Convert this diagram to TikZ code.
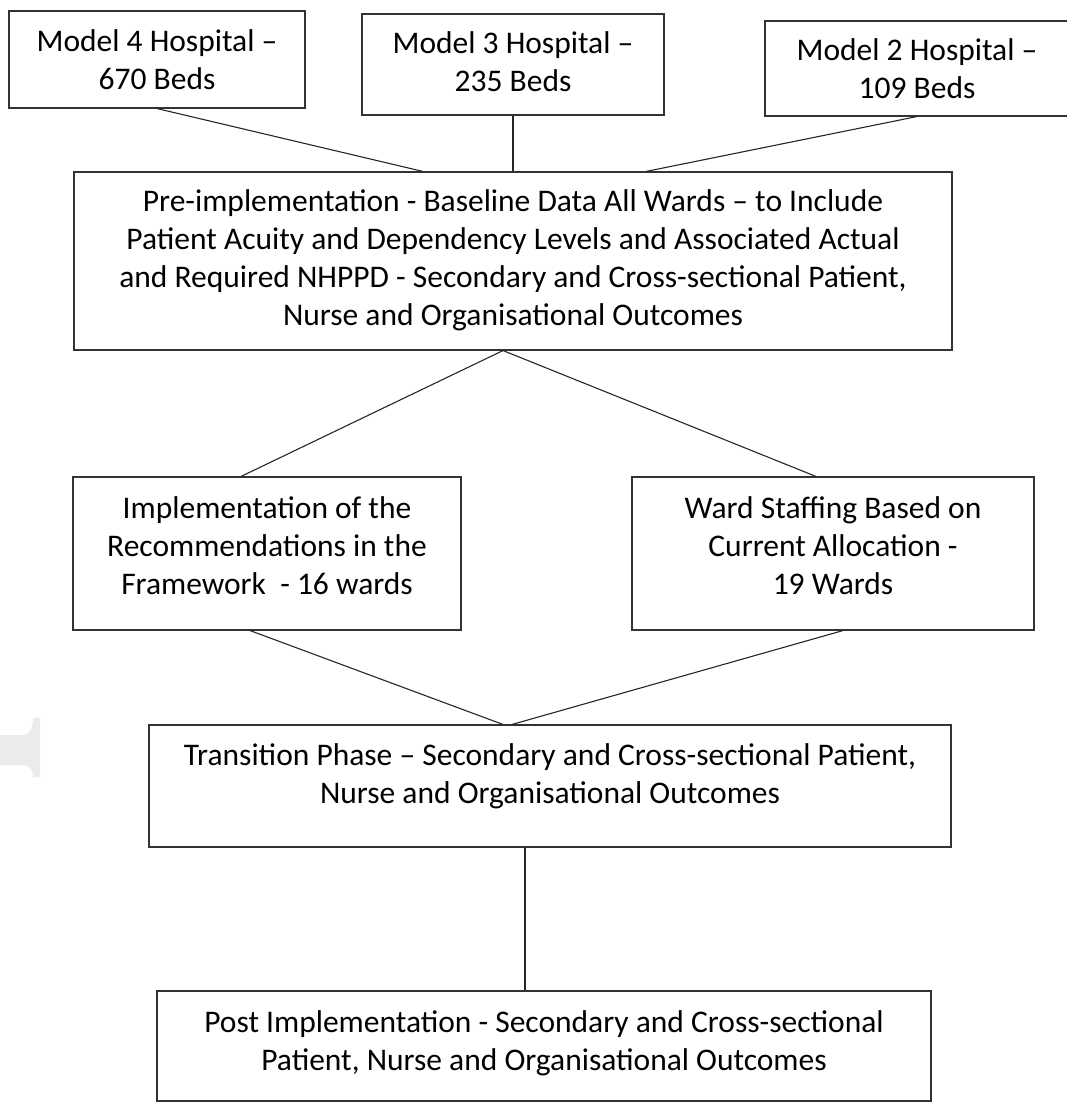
\documentclass[tikz,border=0pt]{standalone}
\usepackage{fontspec}
\setmainfont{Carlito}
\newcommand{\dnrule}[1]{\rule{0pt}{\dimexpr 26.6pt+#1\relax}}
\newcommand{\uprule}[1]{\rule[\dimexpr -11.4pt-#1\relax]{0pt}{0pt}}
\tikzset{
  boxnode/.style={draw=black!80, line width=1.1pt, rectangle, inner sep=0pt,
    align=center, font=\fontsize{31.5}{38}\selectfont},
  link/.style={draw=black!85, line width=1.1pt}
}
\begin{document}
\begin{tikzpicture}[x=1pt,y=-1pt]
\useasboundingbox (0,0) rectangle (1067,1102);
% faint watermark mark at left
\fill[black!8] (0,735) -- (22,735) .. controls (30,735) and (33,728) .. (33,718) -- (40,718) -- (40,777) -- (33,777) .. controls (33,770) and (30,765) .. (22,765) -- (0,765) -- cycle;

\node[boxnode, minimum width=296pt, minimum height=97pt] (m4) at (157,59.5)
  {\dnrule{7.8pt}Model 4 Hospital --\\670 Beds\strut};
\node[boxnode, minimum width=302pt, minimum height=101pt] (m3) at (513,64.5)
  {\strut Model 3 Hospital --\\235 Beds\strut};
\node[boxnode, minimum width=304pt, minimum height=95pt] (m2) at (917,68.5)
  {\dnrule{7.8pt}Model 2 Hospital --\\109 Beds\strut};
\node[boxnode, minimum width=878pt, minimum height=178pt] (pre) at (513,261)
  {\strut Pre-implementation - Baseline Data All Wards -- to Include\\
   \strut Patient Acuity and Dependency Levels and Associated Actual\\
   \strut and Required NHPPD - Secondary and Cross-sectional Patient,\\
   Nurse and Organisational Outcomes\strut};
\node[boxnode, minimum width=388pt, minimum height=153pt] (impl) at (267,553.5)
  {\strut Implementation of the\\
   \strut Recommendations in the\\
   Framework\ \ - 16 wards\uprule{10pt}};
\node[boxnode, minimum width=402pt, minimum height=153pt] (ward) at (833,553.5)
  {\strut Ward Staffing Based on\\
   \strut Current Allocation -\\
   19 Wards\uprule{10pt}};
\node[boxnode, minimum width=802pt, minimum height=122pt] (trans) at (550,786)
  {\strut Transition Phase -- Secondary and Cross-sectional Patient,\\
   Nurse and Organisational Outcomes\uprule{19pt}};
\node[boxnode, minimum width=774pt, minimum height=110pt] (post) at (544,1046)
  {\strut Post Implementation - Secondary and Cross-sectional\\
   Patient, Nurse and Organisational Outcomes\uprule{5pt}};

\draw[link] (m4.south) -- ([xshift=-90pt]pre.north);
\draw[link] (m3.south) -- (pre.north);
\draw[link] (m2.south) -- ([xshift=133pt]pre.north);
\draw[link] ([xshift=-10pt]pre.south) -- ([xshift=-26pt]impl.north);
\draw[link] ([xshift=-10pt]pre.south) -- ([xshift=-17pt]ward.north);
\draw[link] ([xshift=-17pt]impl.south) -- ([xshift=-47pt]trans.north);
\draw[link] ([xshift=10pt]ward.south) -- ([xshift=-38pt]trans.north);
\draw[link] ([xshift=-25pt]trans.south) -- ([xshift=-19pt]post.north);
\end{tikzpicture}
\end{document}
